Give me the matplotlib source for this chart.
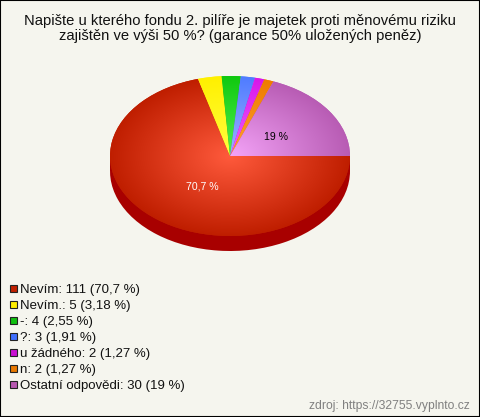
import numpy as np
import matplotlib
matplotlib.use("Agg")
import matplotlib.pyplot as plt
from matplotlib.patches import Rectangle

plt.rcParams['font.family'] = ['Liberation Sans', 'DejaVu Sans']

labels = ["Nevím", "Nevím.", "-", "?", "u žádného", "n", "Ostatní odpovědi"]
counts = [111, 5, 4, 3, 2, 2, 30]
percents = ["70,7", "3,18", "2,55", "1,91", "1,27", "1,27", "19"]
inner_colors = ["#ff5a3c", "#ffff40", "#50f050", "#a0b0ff", "#f060ff", "#ffa030", "#f4a4f8"]
outer_colors = ["#bf1e00", "#fff000", "#10c810", "#4f7cff", "#d818e8", "#ee7c00", "#b85cb4"]
legend_colors = ["#c02000", "#ffee00", "#10c010", "#4070ff", "#c810d0", "#e87800", "#b858b0"]
title = "Napište u kterého fondu 2. pilíře je majetek proti měnovému riziku\nzajištěn ve výši 50 %? (garance 50% uložených peněz)"
source = "zdroj: https://32755.vyplnto.cz"

W, H = 480, 417
cx, cy, rx, ry, depth = 230, 156, 120, 80, 15
bg = "#f5f5ee"

fig = plt.figure(figsize=(W / 100, H / 100), dpi=100, facecolor=bg)
ax = fig.add_axes([0, 0, 1, 1])

# unit circle in data coords is the pie ellipse on screen
xlim = (-cx / rx, (W - cx) / rx)
ylim = ((cy - H) / ry, cy / ry)

# side of the pie
ax.pie(counts, colors=["#a80000"] * len(counts), startangle=0, counterclock=False,
       center=(0, -depth / ry), radius=1)
ax.add_patch(Rectangle((-1, -depth / ry), 2, depth / ry, color="#a80000", lw=0))

# top, each slice with a radial gradient
wedges, _ = ax.pie(counts, colors=outer_colors, startangle=0, counterclock=False, radius=1)
xx, yy = np.meshgrid(np.linspace(-1, 1, 400), np.linspace(-1, 1, 300))
rr = np.clip(np.sqrt(xx ** 2 + yy ** 2), 0, 1)[..., None]
for w, c0, c1 in zip(wedges, inner_colors, outer_colors):
    a = np.array(matplotlib.colors.to_rgb(c0))
    b = np.array(matplotlib.colors.to_rgb(c1))
    im = ax.imshow(a + (b - a) * rr, extent=(-1, 1, -1, 1), origin="lower",
                   aspect="auto", interpolation="bilinear", zorder=2)
    im.set_clip_path(w)

ax.set_xlim(xlim)
ax.set_ylim(ylim)
ax.set_aspect("auto")
ax.axis("off")


def px(x, y):
    return x / W, 1 - y / H


# percent labels on the pie
fig.text(*px(202, 186.5), percents[0] + " %", color="white", fontsize=7.6, ha="center", va="center")
fig.text(*px(276, 137.5), percents[6] + " %", color="black", fontsize=7.6, ha="center", va="center")

fig.text(*px(240, 28.5), title, fontsize=10.65, ha="center", va="center", color="#111111",
         linespacing=1.12)

# legend
for i in range(len(labels)):
    y = 289 + i * 16
    fig.add_artist(Rectangle(px(9.5, y + 3), 7 / W, 7 / H, transform=fig.transFigure,
                             facecolor=legend_colors[i], edgecolor="#222222", lw=0.8))
    fig.text(*px(20.5, y + 1.2), f"{labels[i]}: {counts[i]} ({percents[i]} %)", fontsize=9.56,
             ha="left", va="center", color="#111111")

fig.text(*px(470, 405.5), source, fontsize=8.7, ha="right", va="center", color="#808080")

fig.add_artist(Rectangle((0, 0), 1, 1, transform=fig.transFigure, fill=False,
                         edgecolor="black", lw=1.5))

fig.savefig("out.png", dpi=100, facecolor=bg)
